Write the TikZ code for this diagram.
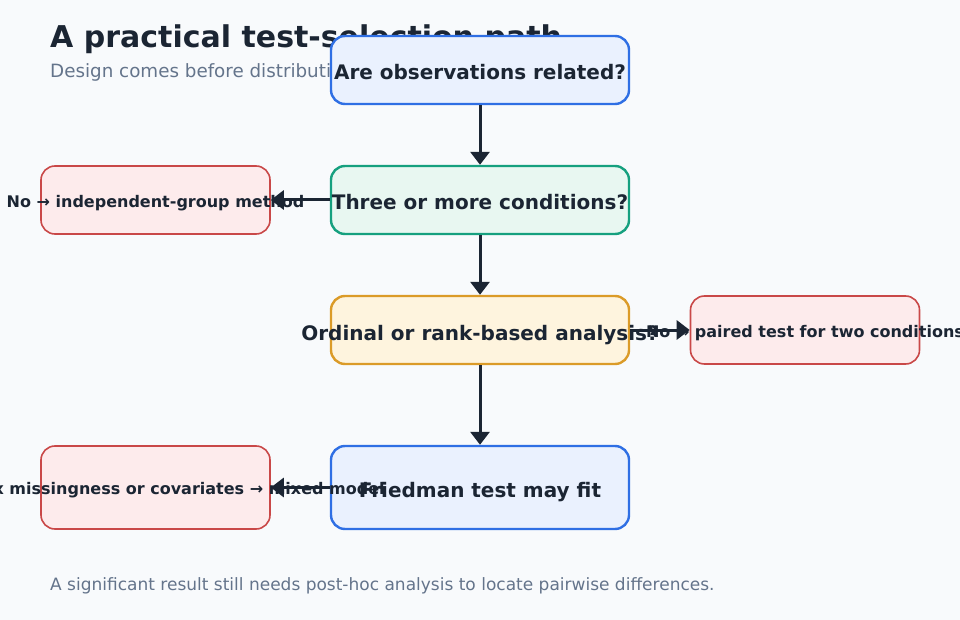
\documentclass[tikz,border=0pt]{standalone}
\usepackage{fontspec}
\setmainfont{DejaVu Sans}
\usepackage{tikz}
\usetikzlibrary{arrows.meta,positioning}
\usepackage{xcolor}
\definecolor{bgpage}{HTML}{F8FAFC}
\definecolor{ink}{HTML}{1B2533}
\definecolor{muted}{HTML}{64748B}
\definecolor{blueline}{HTML}{2F6FE4}
\definecolor{bluefill}{HTML}{EAF1FE}
\definecolor{greenline}{HTML}{16A07F}
\definecolor{greenfill}{HTML}{E8F7F1}
\definecolor{orangeline}{HTML}{DB9B28}
\definecolor{orangefill}{HTML}{FEF4DE}
\definecolor{redline}{HTML}{C94848}
\definecolor{redfill}{HTML}{FDEBEC}
% label that may run past its box
\newcommand{\overrun}[1]{\makebox[0pt]{#1}}

\begin{document}
\begin{tikzpicture}[x=1pt, y=-1pt,
  stepbox/.style={draw, line width=2.4pt, rounded corners=14pt, minimum width=298pt,
    minimum height=68pt, inner sep=0pt, text height=20pt, text depth=0pt, text=ink,
    font=\fontsize{20}{24}\selectfont\bfseries},
  sidebox/.style={draw=redline, fill=redfill, line width=1.6pt, rounded corners=14pt,
    minimum width=229pt, minimum height=68pt, inner sep=0pt, text height=14.5pt, text depth=0pt,
    text=ink, font=\fontsize{16}{19}\selectfont\bfseries},
  flow/.style={draw=ink, line width=3pt, -{Triangle[length=13pt,width=19pt]}}]

\useasboundingbox[fill=bgpage] (0,0) rectangle (960,620);

% heading
\node[anchor=base west, inner sep=0pt, text=ink, font=\fontsize{30}{36}\selectfont\bfseries] (title) at (50,48) {A practical test-selection path};
\node[anchor=base west, inner sep=0pt, text=muted, font=\fontsize{18.3}{22}\selectfont] (subtitle) at (50,78) {Design comes before distribution checks.};

% main path
\node[stepbox, draw=blueline, fill=bluefill] (related) at (480,70) {\overrun{Are observations related?}};
\node[stepbox, draw=greenline, fill=greenfill] (three) at (480,200) {\overrun{Three or more conditions?}};
\node[stepbox, draw=orangeline, fill=orangefill] (ordinal) at (480,330) {\overrun{Ordinal or rank-based analysis?}};
\node[stepbox, draw=blueline, fill=bluefill, minimum height=83pt] (friedman) at (480,487.5) {\overrun{Friedman test may fit}};

% side exits
\node[sidebox] (indep) at (155.5,200) {\overrun{No → independent-group method}};
\node[sidebox] (paired) at (805,330) {\overrun{No → paired test for two conditions}};
\node[sidebox, minimum height=83pt] (mixed) at (155.5,487.5) {\overrun{Complex missingness or covariates → mixed model}};

% arrows
\draw[flow] (related) -- (three);
\draw[flow] (three) -- (ordinal);
\draw[flow] (ordinal) -- (friedman);
\draw[flow] (three) -- (indep);
\draw[flow] (ordinal) -- (paired);
\draw[flow] (friedman) -- (mixed);

% footnote
\node[anchor=base west, inner sep=0pt, text=muted, font=\fontsize{17}{20}\selectfont] (note) at (50,590) {A significant result still needs post-hoc analysis to locate pairwise differences.};

\end{tikzpicture}
\end{document}
